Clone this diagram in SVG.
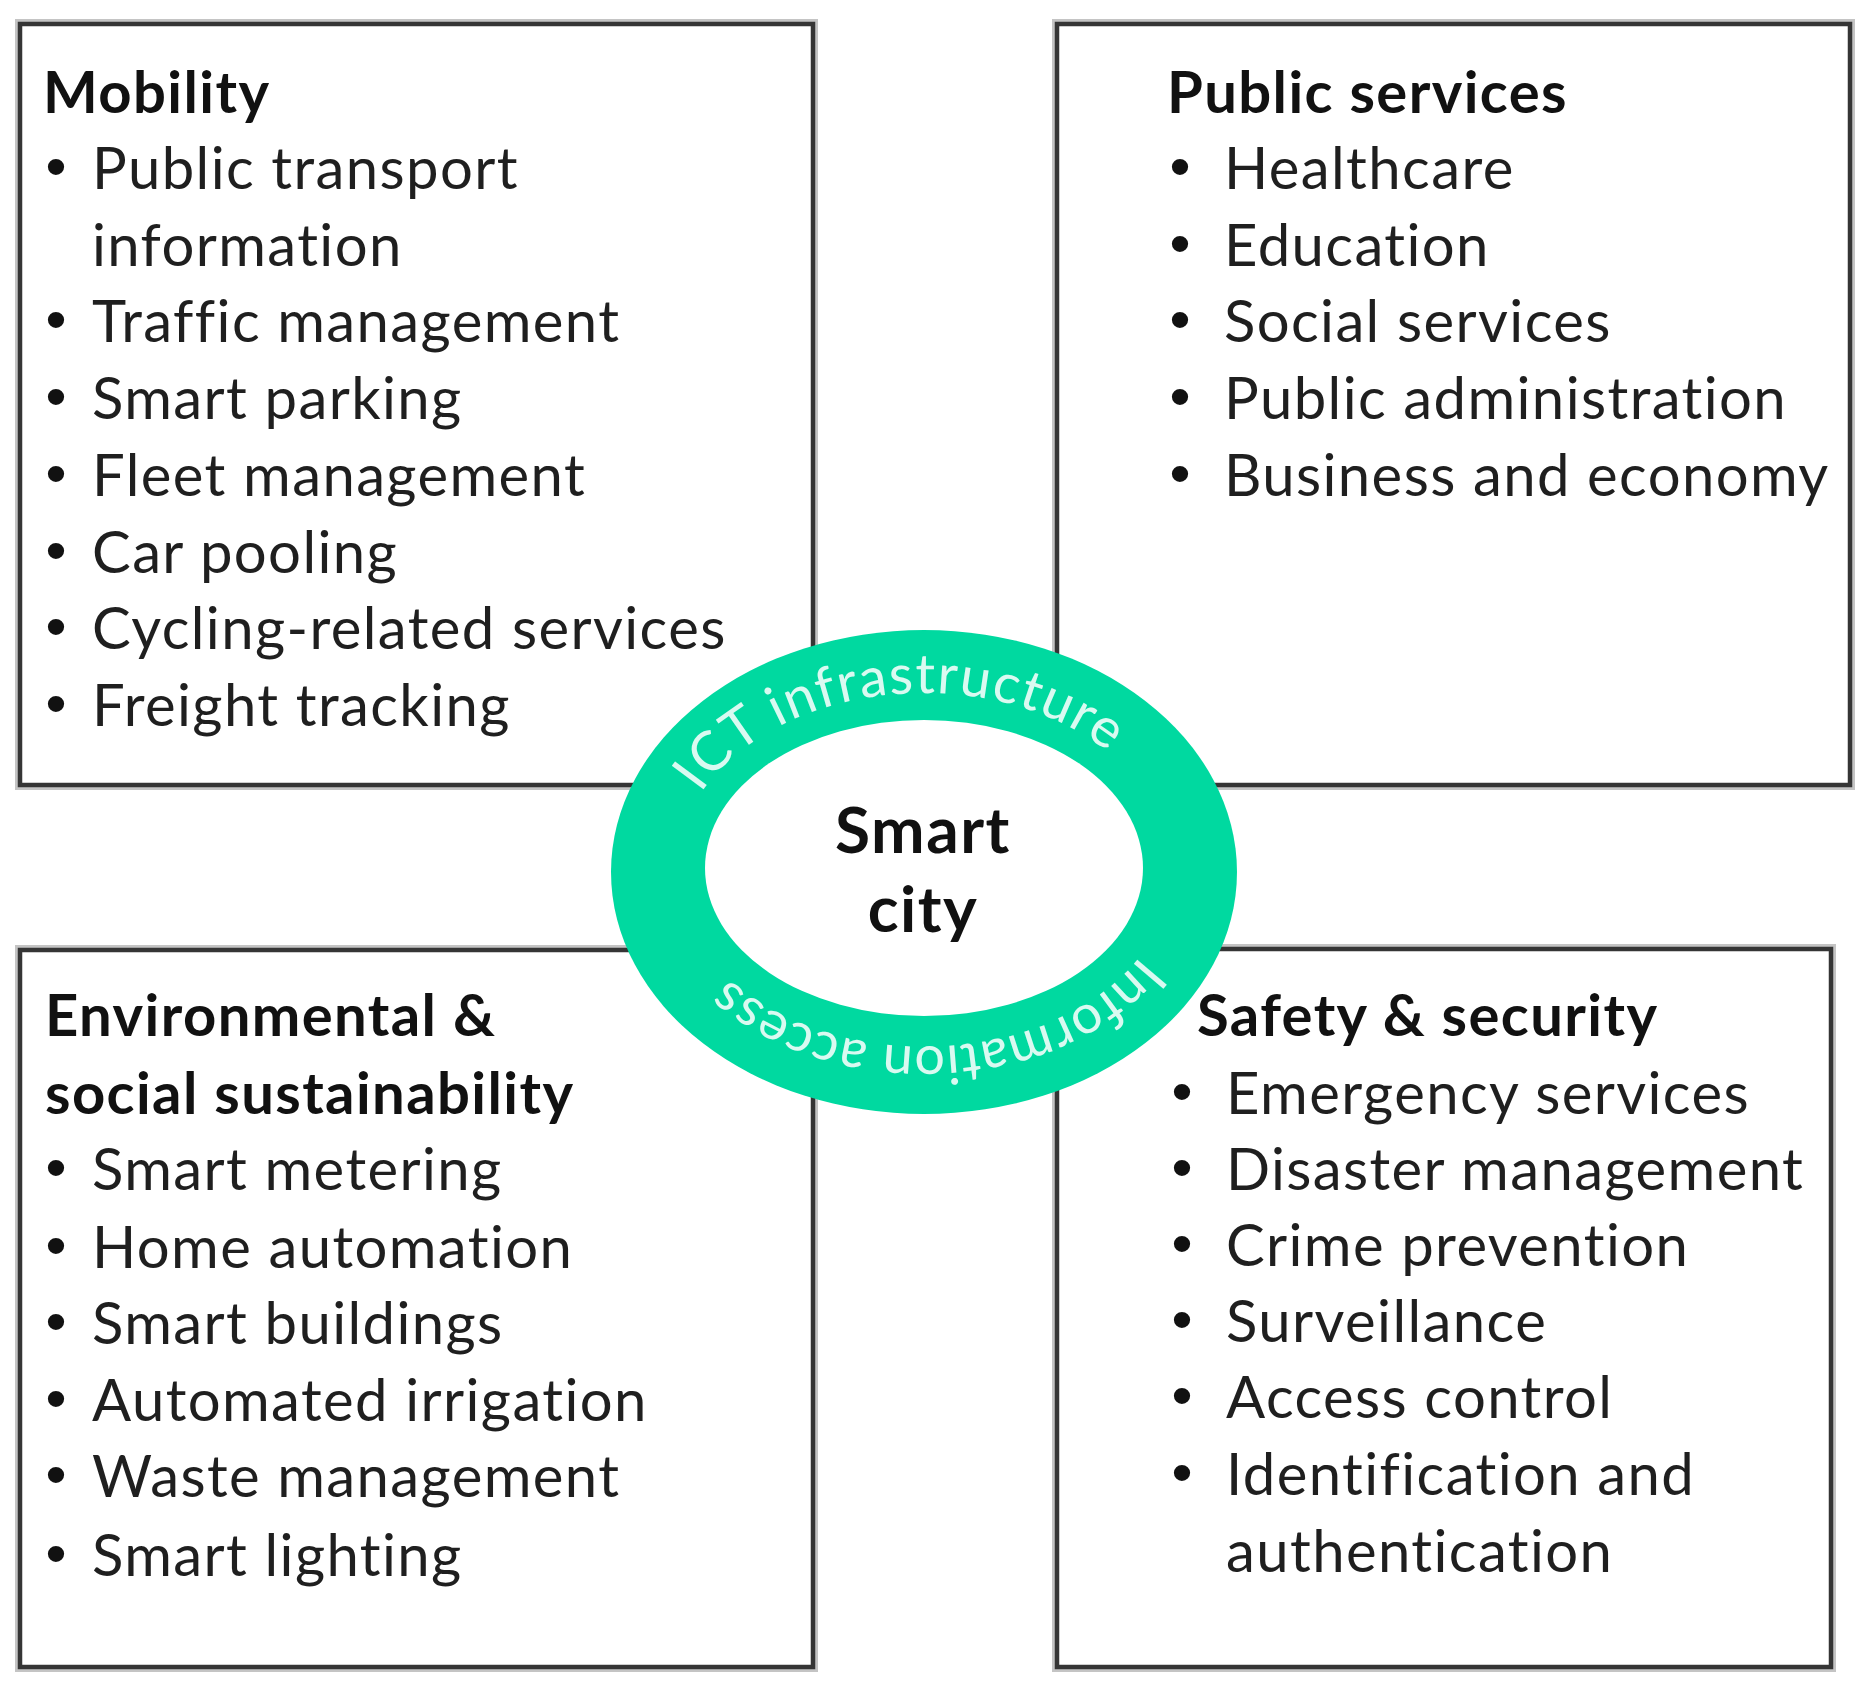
<svg xmlns="http://www.w3.org/2000/svg" width="1872" height="1697" viewBox="0 0 1872 1697">
<style>
.shadow{fill:none;stroke:#c4c4c4;stroke-width:10}
.box{fill:#fff;stroke:#353535;stroke-width:4.5}
.t{font-family:Lato,"Liberation Sans",sans-serif;font-size:58px;letter-spacing:1.4px;fill:#1f1f1f}
.h{font-family:Lato,"Liberation Sans",sans-serif;font-size:58px;letter-spacing:1.4px;font-weight:bold;fill:#111}
.b{font-family:"Liberation Sans",sans-serif;font-size:60px;fill:#111;text-anchor:middle}
.ring{font-family:Lato,"Liberation Sans",sans-serif;font-size:55px;letter-spacing:1.5px;fill:#fff;fill-opacity:0.85}
.ring2{font-family:Lato,"Liberation Sans",sans-serif;font-size:54px;letter-spacing:0.6px;fill:#fff;fill-opacity:0.85}
.center{font-family:Lato,"Liberation Sans",sans-serif;font-size:64px;letter-spacing:1.5px;font-weight:bold;fill:#111;text-anchor:middle}
</style>
<defs>
<path id="topArc" d="M680.8,900.5 A247,176 0 1 1 1168.6,845.5"/>
<path id="botArc" d="M1169.2,848.6 A247,176 0 1 1 678.0,885.3"/>
</defs>
<rect width="1872" height="1697" fill="#fff"/>
<g id="mobility">
<rect class="shadow" x="20" y="24" width="793" height="761"/>
<rect class="box" x="20" y="24" width="793" height="761"/>
<text class="h" x="43" y="113">Mobility</text>
<text class="b" x="56" y="187">•</text><text class="t" x="92" y="189">Public transport</text>
<text class="t" x="92" y="266">information</text>
<text class="b" x="56" y="340">•</text><text class="t" x="92" y="342">Traffic management</text>
<text class="b" x="56" y="417">•</text><text class="t" x="92" y="419">Smart parking</text>
<text class="b" x="56" y="494">•</text><text class="t" x="92" y="496">Fleet management</text>
<text class="b" x="56" y="571">•</text><text class="t" x="92" y="573">Car pooling</text>
<text class="b" x="56" y="647">•</text><text class="t" x="92" y="649">Cycling-related services</text>
<text class="b" x="56" y="724">•</text><text class="t" x="92" y="726">Freight tracking</text>
</g>
<g id="public-services">
<rect class="shadow" x="1057" y="24" width="793" height="761"/>
<rect class="box" x="1057" y="24" width="793" height="761"/>
<text class="h" x="1167" y="113">Public services</text>
<text class="b" x="1180" y="187">•</text><text class="t" x="1224" y="189">Healthcare</text>
<text class="b" x="1180" y="264">•</text><text class="t" x="1224" y="266">Education</text>
<text class="b" x="1180" y="340">•</text><text class="t" x="1224" y="342">Social services</text>
<text class="b" x="1180" y="417">•</text><text class="t" x="1224" y="419">Public administration</text>
<text class="b" x="1180" y="494">•</text><text class="t" x="1224" y="496">Business and economy</text>
</g>
<g id="environmental">
<rect class="shadow" x="20" y="950" width="793" height="717"/>
<rect class="box" x="20" y="950" width="793" height="717"/>
<text class="h" x="45" y="1036">Environmental &amp;</text>
<text class="h" x="45" y="1114">social sustainability</text>
<text class="b" x="56" y="1188">•</text><text class="t" x="92" y="1190">Smart metering</text>
<text class="b" x="56" y="1266">•</text><text class="t" x="92" y="1268">Home automation</text>
<text class="b" x="56" y="1342">•</text><text class="t" x="92" y="1344">Smart buildings</text>
<text class="b" x="56" y="1419">•</text><text class="t" x="92" y="1421">Automated irrigation</text>
<text class="b" x="56" y="1495">•</text><text class="t" x="92" y="1497">Waste management</text>
<text class="b" x="56" y="1574">•</text><text class="t" x="92" y="1576">Smart lighting</text>
</g>
<g id="safety">
<rect class="shadow" x="1057" y="949" width="774" height="718"/>
<rect class="box" x="1057" y="949" width="774" height="718"/>
<text class="h" x="1197" y="1036">Safety &amp; security</text>
<text class="b" x="1182" y="1112">•</text><text class="t" x="1226" y="1114">Emergency services</text>
<text class="b" x="1182" y="1188">•</text><text class="t" x="1226" y="1190">Disaster management</text>
<text class="b" x="1182" y="1264">•</text><text class="t" x="1226" y="1266">Crime prevention</text>
<text class="b" x="1182" y="1340">•</text><text class="t" x="1226" y="1342">Surveillance</text>
<text class="b" x="1182" y="1416">•</text><text class="t" x="1226" y="1418">Access control</text>
<text class="b" x="1182" y="1493">•</text><text class="t" x="1226" y="1495">Identification and</text>
<text class="t" x="1226" y="1572">authentication</text>
</g>
<g id="smart-city">
<ellipse cx="924" cy="872" rx="313" ry="242" fill="#00d9a0"/>
<ellipse cx="924" cy="868" rx="219" ry="148" fill="#fff"/>
<text class="ring"><textPath href="#topArc" startOffset="50%" text-anchor="middle">ICT infrastructure</textPath></text>
<text class="ring2"><textPath href="#botArc" startOffset="50.5%" text-anchor="middle">Information access</textPath></text>
<text class="center" x="923" y="853">Smart</text>
<text class="center" x="923" y="932">city</text>
</g>
<g id="connectors"></g>
</svg>
